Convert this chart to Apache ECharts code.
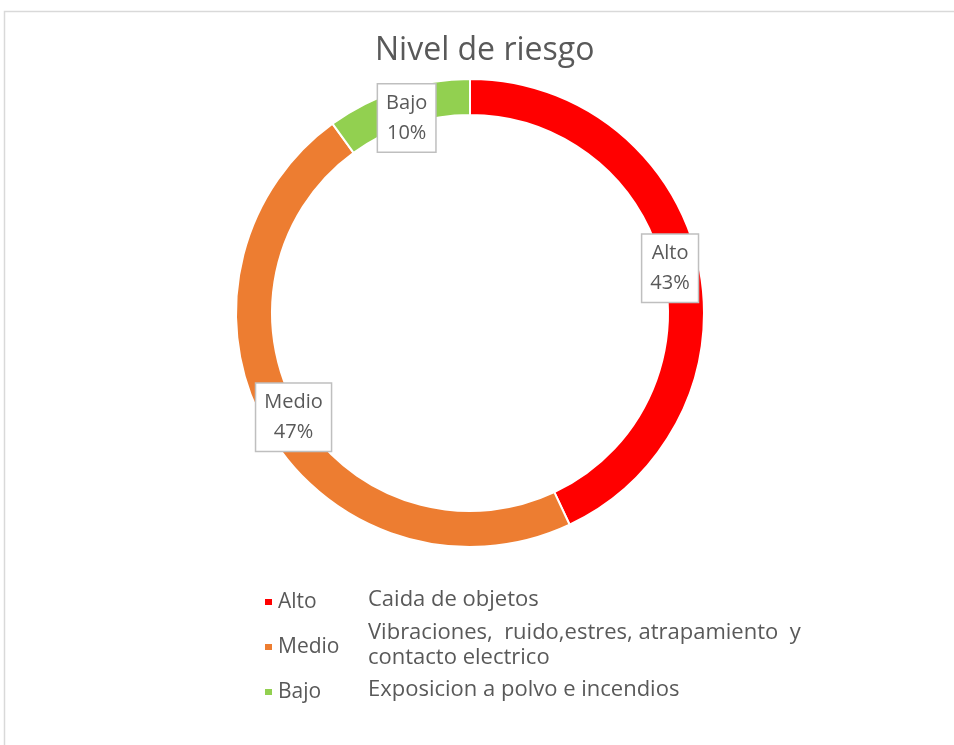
<!DOCTYPE html>
<html>
<head>
<meta charset="utf-8">
<script src="https://cdn.jsdelivr.net/npm/echarts@6/dist/echarts.min.js"></script>
<style>
  html, body { margin: 0; padding: 0; background: #fff; }
  #chart { width: 954px; height: 745px; }
</style>
</head>
<body>
<div id="chart"></div>
<script>
var categories = ['Alto', 'Medio', 'Bajo'];
var values = [43, 47, 10];
var descriptions = [
    ['Caida de objetos'],
    ['Vibraciones,  ruido,estres, atrapamiento  y', 'contacto electrico'],
    ['Exposicion a polvo e incendios']
];
var colors = ['#ff0000', '#ed7d31', '#92d050'];

var chart = echarts.init(document.getElementById('chart'));
var font = '"Open Sans"';
var cx = 470, cy = 313;

// textos de la leyenda (columna de descripcion)
var descY = [600, 645, 690];
var descGraphics = [];
descriptions.forEach(function (lines, i) {
    var top = descY[i] - lines.length * 25 / 2;
    descGraphics.push({
        type: 'text',
        left: 368,
        top: top,
        style: {
            text: lines.join('\n'),
            font: '22px ' + font,
            fill: '#595959',
            lineHeight: 25
        }
    });
});

var option = {
    color: colors,
    title: {
        text: 'Nivel de riesgo',
        left: 375,
        top: 35,
        padding: 0,
        textStyle: {
            fontFamily: font,
            fontSize: 32,
            fontWeight: 'normal',
            color: '#595959'
        }
    },
    legend: {
        orient: 'vertical',
        left: 263,
        top: 591,
        padding: 0,
        icon: 'rect',
        itemWidth: 9,
        itemHeight: 8,
        itemGap: 23,
        itemTextGap: 8,
        data: categories,
        textStyle: {
            fontFamily: font,
            fontSize: 21,
            lineHeight: 22,
            color: '#595959'
        }
    },
    graphic: [{
        type: 'rect',
        shape: { x: 4.5, y: 11.5, width: 1000, height: 800 },
        style: { fill: 'none', stroke: '#d9d9d9', lineWidth: 1.5 },
        silent: true
    }].concat(descGraphics),
    series: [{
        type: 'pie',
        center: [cx, cy],
        radius: [198, 234],
        startAngle: 90,
        clockwise: true,
        avoidLabelOverlap: false,
        itemStyle: { borderColor: '#fff', borderWidth: 2 },
        label: {
            show: true,
            position: 'inside',
            formatter: '{b}\n{d}%',
            fontFamily: font,
            fontSize: 20,
            lineHeight: 30,
            color: '#595959',
            backgroundColor: '#fff',
            borderColor: '#bfbfbf',
            borderWidth: 1.5,
            padding: [4, 8, 3, 8]
        },
        // acercar las etiquetas un poco hacia el centro (como en excel)
        labelLayout: function (p) {
            var r = p.labelRect;
            var x = r.x + r.width / 2;
            var y = r.y + r.height / 2;
            var dx = x - cx, dy = y - cy;
            var k = 205 / Math.sqrt(dx * dx + dy * dy);
            return { dx: dx * k - dx, dy: dy * k - dy };
        },
        labelLine: { show: false },
        emphasis: { disabled: true },
        data: categories.map(function (c, i) {
            return { name: c, value: values[i] };
        })
    }]
};
chart.setOption(option);
</script>
</body>
</html>
